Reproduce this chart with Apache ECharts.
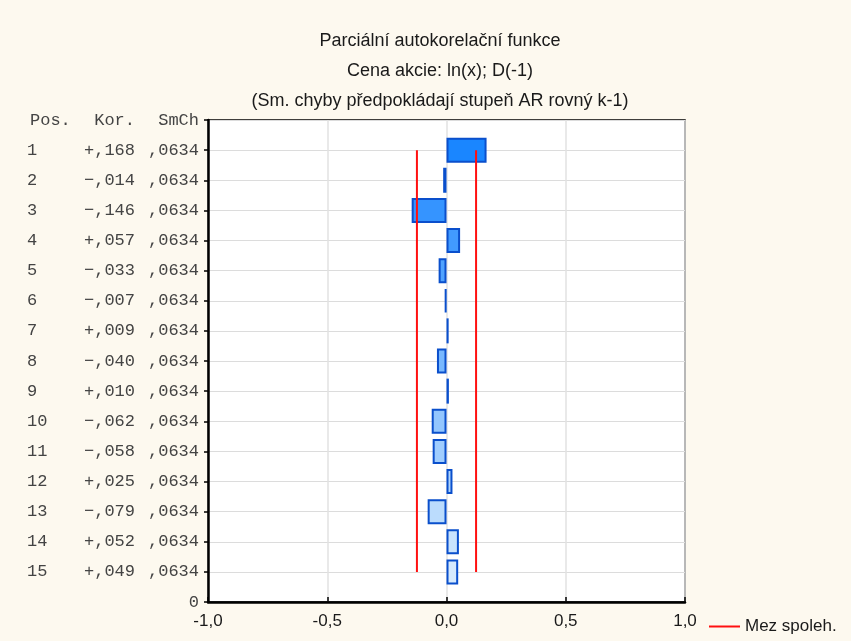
<!DOCTYPE html>
<html><head><meta charset="utf-8">
<script src="https://cdn.jsdelivr.net/npm/echarts@6/dist/echarts.min.js"></script>
<style>html,body{margin:0;padding:0;background:#fdf9ef;}#c{width:851px;height:641px;}</style>
</head><body><div id="c"></div>
<script>
var lags = ['1','2','3','4','5','6','7','8','9','10','11','12','13','14','15'];
var kor = [0.168,-0.014,-0.146,0.057,-0.033,-0.007,0.009,-0.040,0.010,-0.062,-0.058,0.025,-0.079,0.052,0.049];
var smch = [0.0634,0.0634,0.0634,0.0634,0.0634,0.0634,0.0634,0.0634,0.0634,0.0634,0.0634,0.0634,0.0634,0.0634,0.0634];
var confLimit = 0.124;
var xTicks = [-1,-0.5,0,0.5,1];
var titleLines = ['Parciální autokorelační funkce','Cena akcie: ln(x); D(-1)','(Sm. chyby předpokládají stupeň AR rovný k-1)'];
var header = ['Pos.','Kor.','SmCh'];
var legendName = 'Mez spoleh.';

var cats = ['H'].concat(lags).concat(['0']);
function fmtKor(v){ var s = Math.abs(v).toFixed(3).replace(/^0\./, ','); return (v<0?'\u2212':'+') + s; }
function fmtSe(v){ return v.toFixed(4).replace(/^0\./, ','); }
function lerp(a,b,t){ return Math.round(a+(b-a)*t); }
var barData = [{value:null}];
for (var i=0;i<lags.length;i++){
  var t = i/(lags.length-1);
  var col = 'rgb('+lerp(26,214,t)+','+lerp(134,234,t)+','+lerp(255,253,t)+')';
  barData.push({value:kor[i], itemStyle:{color:col}});
}
barData.push({value:null});

var chart = echarts.init(document.getElementById('c'));
var mono = '"Liberation Mono","Courier New",monospace';
var sans = '"Liberation Sans",Arial,sans-serif';
var txt = '#1a1a1a';
chart.setOption({
  backgroundColor:'#fdf9ef',
  animation:false,
  title:{text:titleLines.join('\n'), left:435, top:21, textAlign:'center',
    textStyle:{fontFamily:sans, fontSize:18, fontWeight:'normal', color:txt, lineHeight:30}},
  legend:{data:[{name:legendName, icon:'rect'}], left:704, top:613, itemWidth:31, itemHeight:2, itemGap:8,
    textStyle:{fontFamily:sans, fontSize:17, color:txt}},
  grid:{left:208, right:166, top:120, bottom:39, show:true, backgroundColor:'#fff', borderColor:'#000', borderWidth:1.5},
  xAxis:{type:'value', min:-1, max:1, interval:0.5,
    axisLine:{show:true, lineStyle:{color:'#000', width:2.5}},
    axisTick:{show:true, inside:true, length:5, lineStyle:{color:'#000', width:1.5}},
    splitLine:{show:true, lineStyle:{color:'#e2e2e2', width:1.5}},
    axisLabel:{margin:11, fontFamily:sans, fontSize:17, color:txt,
      formatter:function(v){ return v.toFixed(1).replace('.',','); }}},
  yAxis:{type:'category', data:cats, inverse:true, boundaryGap:false,
    axisLine:{show:true, onZero:false, lineStyle:{color:'#000', width:2.5}},
    axisTick:{show:true, inside:false, length:4, interval:0, lineStyle:{color:'#000', width:1.5}},
    splitLine:{show:true, interval:0, lineStyle:{color:'#dcdcdc', width:1.2}},
    axisLabel:{interval:0, margin:9, align:'right',
      formatter:function(v, idx){
        if (idx===0) return '{ha|'+header[0]+'}{b|'+header[1]+'}{c|'+header[2]+'}';
        if (idx===cats.length-1) return '{c|0}';
        var i = idx-1;
        return '{a|'+lags[i]+'}{b|'+fmtKor(kor[i])+'}{c|'+fmtSe(smch[i])+'}';
      },
      rich:{
        ha:{width:52, align:'left', padding:[0,0,0,3], fontFamily:mono, fontSize:17, color:'#444'},
        a:{width:55, align:'left', fontFamily:mono, fontSize:17, color:'#444'},
        b:{width:53, align:'right', fontFamily:mono, fontSize:17, color:'#444'},
        c:{width:64, align:'right', fontFamily:mono, fontSize:17, color:'#444'}
      }}},
  series:[
    {type:'bar', data:barData, barWidth:25, itemStyle:{borderColor:'#0a4fcc', borderWidth:2}, z:3},
    {name:legendName, type:'line', data:[[-confLimit,lags[0]],[-confLimit,lags[lags.length-1]]], symbol:'none',
      lineStyle:{color:'#ff1010', width:2}, itemStyle:{color:'#ff1010'}, z:4},
    {name:legendName, type:'line', data:[[confLimit,lags[0]],[confLimit,lags[lags.length-1]]], symbol:'none',
      lineStyle:{color:'#ff1010', width:2}, itemStyle:{color:'#ff1010'}, z:4}
  ]
});
</script></body></html>
